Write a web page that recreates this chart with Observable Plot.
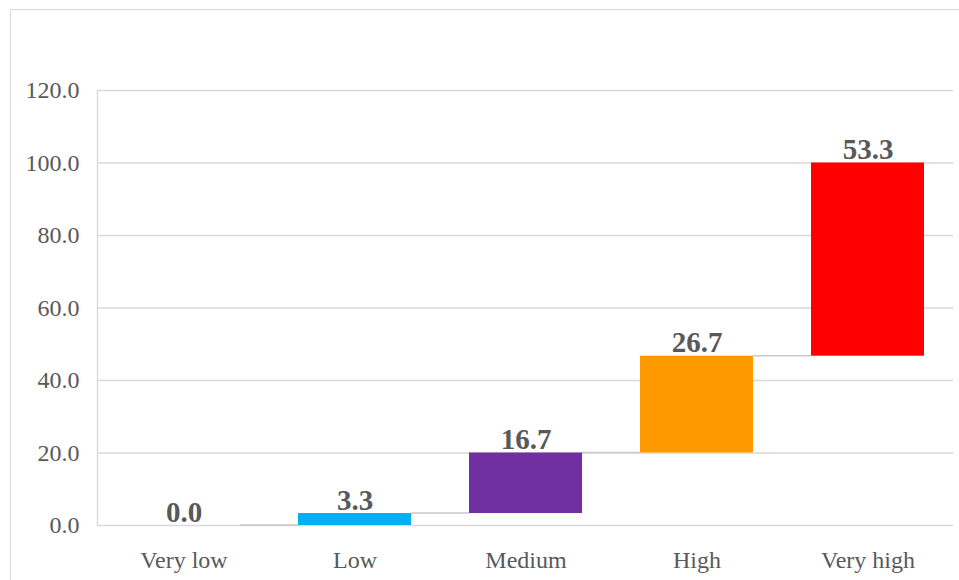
<!DOCTYPE html>
<html>
<head>
<meta charset="utf-8">
<script src="https://cdn.jsdelivr.net/npm/d3@7"></script>
<script src="https://cdn.jsdelivr.net/npm/@observablehq/plot@0.6"></script>
<style>
  html, body { margin: 0; padding: 0; background: #fff; }
  #wrap { position: relative; width: 959px; height: 580px; overflow: hidden; }
  #border { position: absolute; left: 10px; top: 9px; width: 980px; height: 620px;
            border: 1.5px solid #d9d9d9; box-sizing: border-box; }
  #chart { position: absolute; left: 0; top: 0; }
</style>
</head>
<body>
<div id="wrap">
  <div id="border"></div>
  <div id="chart"></div>
</div>
<script>
// Waterfall: share of responses by level, stacking up to 100
const categories = ["Very low", "Low", "Medium", "High", "Very high"];
const values = [0.0, 3.3, 16.7, 26.7, 53.3];
const colors = ["#5B9BD5", "#00B0F0", "#7030A0", "#FF9900", "#FF0000"];
const yTicks = [0, 20, 40, 60, 80, 100, 120];

// running totals give each step's start and end
let run = 0;
const steps = categories.map((c, i) => {
  const start = run;
  run = +(run + values[i]).toFixed(1);
  return {category: c, value: values[i], start, end: run, color: colors[i]};
});
const connectors = steps.slice(0, -1).map((s, i) => ({from: s.category, to: steps[i + 1].category, level: s.end}));

const textColor = "#595959";
const font = "'Liberation Serif', 'Times New Roman', serif";

const chart = Plot.plot({
  width: 959,
  height: 580,
  marginLeft: 97,
  marginRight: 6,
  marginTop: 90,
  marginBottom: 55,
  style: {fontFamily: font, color: textColor, background: "transparent", overflow: "visible"},
  x: {domain: categories, paddingInner: 0.34, paddingOuter: 0.16, label: null},
  y: {domain: [0, 120], label: null},
  marks: [
    Plot.gridY(yTicks, {stroke: "#d9d9d9", strokeOpacity: 1, strokeWidth: 1.4}),
    Plot.frame({anchor: "left", stroke: "#d9d9d9", strokeWidth: 1.4}),
    // connector lines from the right edge of one step to the left edge of the next
    Plot.ruleY(connectors, {
      x1: "from", x2: "to", y: "level",
      stroke: "#c9c9c9", strokeWidth: 1.6,
      render(index, scales, values, dimensions, context) {
        const bw = typeof scales.x.bandwidth === "function" ? scales.x.bandwidth() : (scales.x.bandwidth || 0);
        const g = d3.create("svg:g");
        for (const i of index) {
          g.append("line")
            .attr("x1", values.x1[i] + bw)
            .attr("x2", values.x2[i])
            .attr("y1", values.y[i])
            .attr("y2", values.y[i])
            .attr("stroke", "#c9c9c9")
            .attr("stroke-width", 1.6);
        }
        return g.node();
      }
    }),
    Plot.barY(steps, {x: "category", y1: "start", y2: "end", fill: "color"}),
    Plot.text(steps, {
      x: "category", y: "end", text: d => d.value.toFixed(1),
      dy: -4, lineAnchor: "bottom", fontSize: 29, fontWeight: "bold", fill: textColor
    }),
    Plot.axisY(yTicks, {tickSize: 0, tickPadding: 18, fontSize: 24, tickFormat: d => d.toFixed(1), fill: textColor}),
    Plot.axisX({tickSize: 0, tickPadding: 25, fontSize: 24, fill: textColor})
  ]
});

document.getElementById("chart").appendChild(chart);
</script>
</body>
</html>
